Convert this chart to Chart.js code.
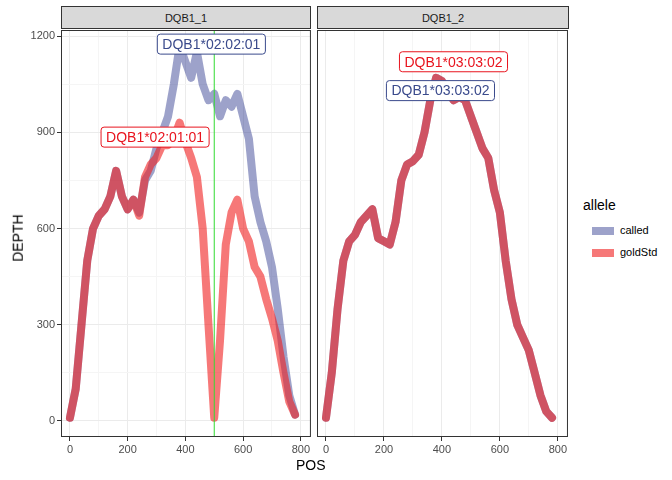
<!DOCTYPE html>
<html><head><meta charset="utf-8">
<script src="https://cdn.jsdelivr.net/npm/chart.js@4"></script>
<style>
body{margin:0;width:672px;height:480px;position:relative;background:#fff;font-family:"Liberation Sans",Arial,sans-serif;overflow:hidden}
canvas{position:absolute;top:0}
.strip{position:absolute;top:6px;height:23px;background:#d9d9d9;border:1px solid #333;box-sizing:border-box;font-size:11px;color:#1a1a1a;text-align:center;line-height:22px}
.t{position:absolute;font-size:14px;color:#000}
.key{position:absolute;left:592px;width:22px;height:8px}
</style></head><body>
<div id="c1w" style="position:absolute;left:0;top:0;width:312px;height:480px"><canvas id="c1"></canvas></div>
<div id="c2w" style="position:absolute;left:317px;top:0;width:252px;height:480px"><canvas id="c2"></canvas></div>
<div class="strip" style="left:61px;width:250px">DQB1_1</div>
<div class="strip" style="left:317px;width:252px">DQB1_2</div>
<div class="t" style="left:296px;top:457px">POS</div>
<div class="t" style="left:-6px;top:230px;transform:rotate(-90deg)">DEPTH</div>
<div class="t" style="left:583px;top:197px">allele</div>
<div class="key" style="top:227px;background:#9da2ca"></div>
<div class="t" style="left:620px;top:224px;font-size:11px">called</div>
<div class="key" style="top:249px;background:#f67878"></div>
<div class="t" style="left:620px;top:246px;font-size:11px">goldStd</div>
<script>
// Data
const pos = [0,20,40,60,80,100,120,140,160,180,200,220,240,260,280,300,320,340,360,380,400,420,440,460,480,500,520,540,560,580,600,620,640,660,680,700,720,740,760,780];
const called1 = [10,100,300,500,600,640,660,700,780,700,660,690,650,750,780,850,900,950,1050,1170,1120,1070,1150,1050,1000,1020,950,1000,980,1020,950,880,700,620,560,480,350,200,80,20];
const gold1 = [10,100,300,500,600,640,660,700,780,700,660,690,640,760,800,820,860,860,880,930,870,820,760,600,300,10,250,550,650,690,600,560,480,450,380,320,250,150,60,20];
const called2 = [10,150,350,500,560,580,620,640,660,570,560,550,620,750,800,810,830,900,1000,1070,1060,1030,1000,1010,1000,950,900,850,820,720,650,500,380,300,260,220,150,80,30,10];
const gold2 = called2.slice();
const xTicks = [0,200,400,600,800];
const yTicks = [0,300,600,900,1200];

const CALLED = 'rgba(60,70,150,0.5)', GOLD = 'rgba(240,30,30,0.6)';

function pts(ys){ return pos.map((p,i)=>({x:p,y:ys[i]})); }

function labelBox(ctx, chart, x, y, text, col){
  const sx = chart.scales.x.getPixelForValue(x), sy = chart.scales.y.getPixelForValue(y);
  ctx.font = '14px "Liberation Sans", Arial, sans-serif';
  const w = ctx.measureText(text).width + 10, h = 20;
  ctx.fillStyle = '#fff'; ctx.strokeStyle = col; ctx.lineWidth = 1;
  ctx.beginPath(); ctx.roundRect(sx - w/2, sy - h/2, w, h, 3); ctx.fill(); ctx.stroke();
  ctx.fillStyle = col; ctx.textAlign = 'center'; ctx.textBaseline = 'middle';
  ctx.fillText(text, sx, sy + 1);
}

function makeChart(id, c, g, showY, extra){
  const grid = {
    color: ctx => ctx.tick && ctx.tick.label !== '' ? '#ebebeb' : '#f5f5f5',
    tickColor: ctx => ctx.tick && ctx.tick.label !== '' ? '#333' : 'rgba(0,0,0,0)',
    tickLength: 4
  };
  new Chart(document.getElementById(id), {
    type: 'line',
    data: { datasets: [
      { label: 'called', data: pts(c), borderColor: CALLED, order: 1 },
      { label: 'goldStd', data: pts(g), borderColor: GOLD, order: 0 }
    ]},
    options: {
      responsive: true, maintainAspectRatio: false, animation: false,
      layout: { padding: { top: 30, left: 0, right: 0, bottom: 0 } },
      elements: { line: { borderWidth: 8, tension: 0, borderJoinStyle: 'round', borderCapStyle: 'round' }, point: { radius: 0 } },
      plugins: { legend: { display: false }, tooltip: { enabled: false } },
      scales: {
        x: { type: 'linear', min: -31, max: 835, afterBuildTicks: s => { s.ticks = [0,100,200,300,400,500,600,700,800].map(v=>({value:v})); },
             ticks: { color: '#4d4d4d', font: { size: 11 }, padding: 2, maxRotation: 0, minRotation: 0, autoSkip: false, callback: v => xTicks.includes(v) ? v : '' },
             grid, border: { display: false }, afterFit: s => { s.height = 43; } },
        y: { display: showY, min: -50, max: 1219, afterBuildTicks: s => { s.ticks = [0,150,300,450,600,750,900,1050,1200].map(v=>({value:v})); },
             ticks: { color: '#4d4d4d', font: { size: 11 }, padding: 2, callback: v => yTicks.includes(v) ? v : '' },
             grid, border: { display: false }, afterFit: s => { s.width = showY ? 61 : 0; } }
      }
    },
    plugins: [{
      id: 'deco',
      afterDatasetsDraw(chart){
        const ctx = chart.ctx, a = chart.chartArea;
        ctx.save();
        extra(ctx, chart);
        ctx.strokeStyle = '#333'; ctx.lineWidth = 1;
        ctx.strokeRect(a.left + 0.5, a.top + 0.5, a.right - a.left - 1, a.bottom - a.top - 1);
        ctx.restore();
      }
    }]
  });
}

makeChart('c1', called1, gold1, true, (ctx, chart) => {
  const x = chart.scales.x.getPixelForValue(500);
  ctx.strokeStyle = '#33dd33'; ctx.lineWidth = 1;
  ctx.beginPath(); ctx.moveTo(x, chart.chartArea.top); ctx.lineTo(x, chart.chartArea.bottom); ctx.stroke();
  labelBox(ctx, chart, 490, 1175, 'DQB1*02:02:01', '#3a4a8c');
  labelBox(ctx, chart, 295, 885, 'DQB1*02:01:01', '#e8141e');
});
makeChart('c2', called2, gold2, false, (ctx, chart) => {
  labelBox(ctx, chart, 440, 1120, 'DQB1*03:03:02', '#e8141e');
  labelBox(ctx, chart, 395, 1030, 'DQB1*03:03:02', '#3a4a8c');
});
</script>
</body></html>
